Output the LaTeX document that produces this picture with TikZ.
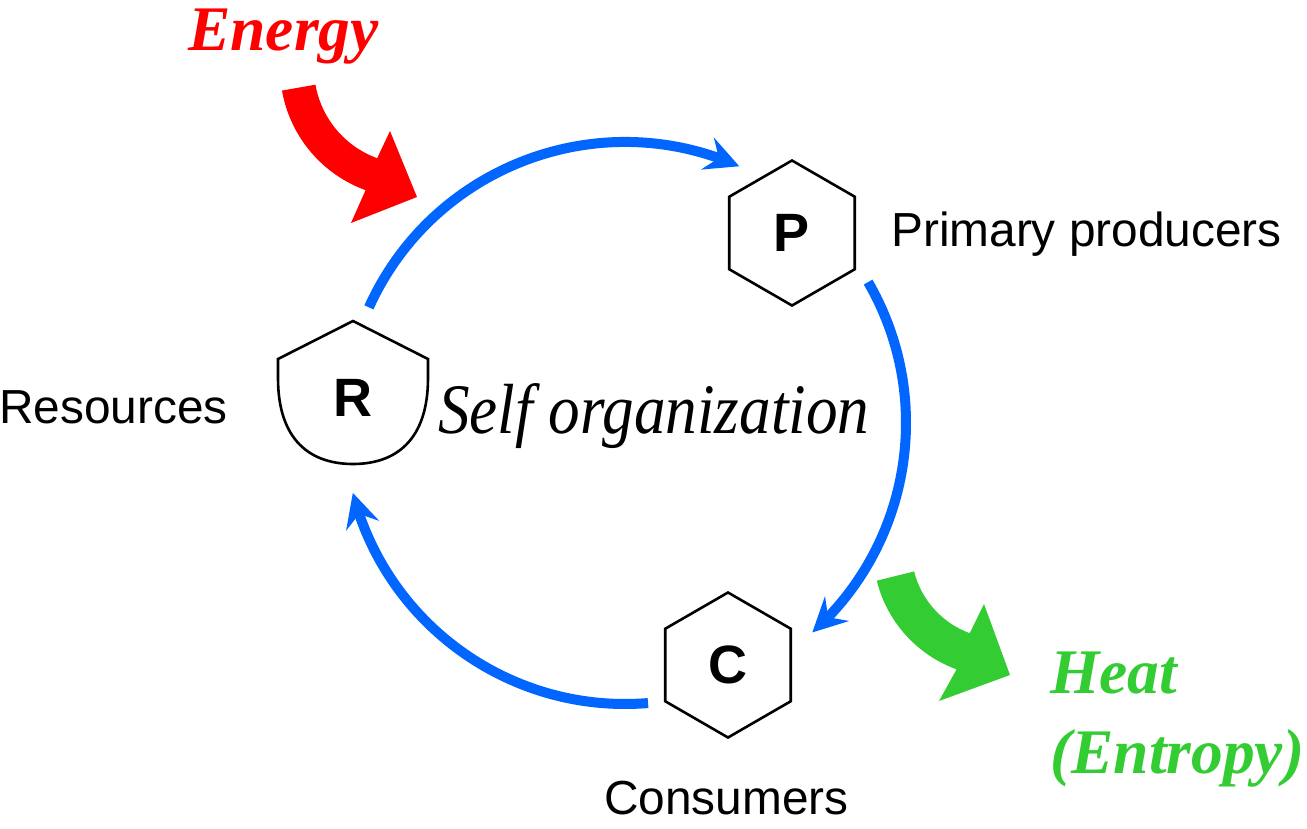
\documentclass[tikz,border=0pt]{standalone}
\usepackage{fontspec}
\setmainfont{Liberation Serif}
\newfontfamily\arialf{Liberation Sans}
\usetikzlibrary{arrows.meta,bending,shapes.geometric}
\definecolor{flowblue}{RGB}{0,102,255}
\definecolor{heatgreen}{RGB}{51,204,51}
\begin{document}
\begin{tikzpicture}[x=1pt,y=-1pt,
  hexa/.style={draw, line width=2.6pt, regular polygon, regular polygon sides=6,
    shape border rotate=30, minimum size=145pt, inner sep=0pt,
    font=\arialf\bfseries\fontsize{54}{60}\selectfont},
  letter/.style={inner sep=0pt, font=\arialf\bfseries\fontsize{54}{60}\selectfont},
  lbl/.style={inner sep=0pt, anchor=base west, font=\arialf\fontsize{47.8}{56}\selectfont},
  big/.style={inner sep=0pt, anchor=base west, font=\bfseries\itshape\fontsize{63.5}{72}\selectfont},
  flow/.style={draw=flowblue, line width=10pt,
    -{Stealth[length=34pt,width=34pt,inset=12pt]}},
  shield/.style={draw, line width=2.6pt, line join=miter}
]
\useasboundingbox (0,0) rectangle (1307,829);

% nodes
\node[hexa] (P) at (792,233) {P};
\node[hexa] (C) at (728,665) {C};
\draw[shield] (278,359) -- (353,321) -- (428,359) -- (428,378)
  .. controls (428,440) and (396,464) .. (353,464)
  .. controls (310,464) and (278,440) .. (278,378) -- cycle;
\node[letter] (R) at (353,398) {R};

% labels
\node[lbl] (res) at (-1,423) {Resources};
\node[lbl] (prim) at (891,247) {Primary producers};
\node[lbl] (cons) at (604,814) {Consumers};
\node[inner sep=0pt, anchor=base west, font=\itshape\fontsize{71}{80}\selectfont] (self) at (438,433)
  {\scalebox{0.89}[1]{Self organization}};
\node[big, text=red] (energy) at (188,51) {Energy};
\node[big, text=heatgreen] (heat) at (1050,693) {Heat};
\node[big, text=heatgreen] (entropy) at (1050,773) {(Entropy)};

% cycle
\coordinate (ctr) at (625,423);
\draw[flow] ([shift={(204.3:281)}]ctr) arc[start angle=204.3,end angle=294,radius=281];
\draw[flow] ([shift={(-30.1:281)}]ctr) arc[start angle=-30.1,end angle=48.2,radius=281];
\draw[flow] ([shift={(85.3:281)}]ctr) arc[start angle=85.3,end angle=165.6,radius=281];

% energy in
\coordinate (rc) at (410,68);
\fill[red] ([shift={(170:130)}]rc) arc[start angle=170,end angle=110,radius=130]
  -- (351,223) -- (417,197) -- (390,131)
  -- ([shift={(110:96)}]rc) arc[start angle=110,end angle=170,radius=96] -- cycle;

% heat out
\coordinate (gc) at (1000,550);
\fill[heatgreen] ([shift={(166:127)}]gc) arc[start angle=166,end angle=110,radius=127]
  -- (939,701) -- (1010,675) -- (984,604)
  -- ([shift={(110:88.5)}]gc) arc[start angle=110,end angle=166,radius=88.5] -- cycle;
\end{tikzpicture}
\end{document}
